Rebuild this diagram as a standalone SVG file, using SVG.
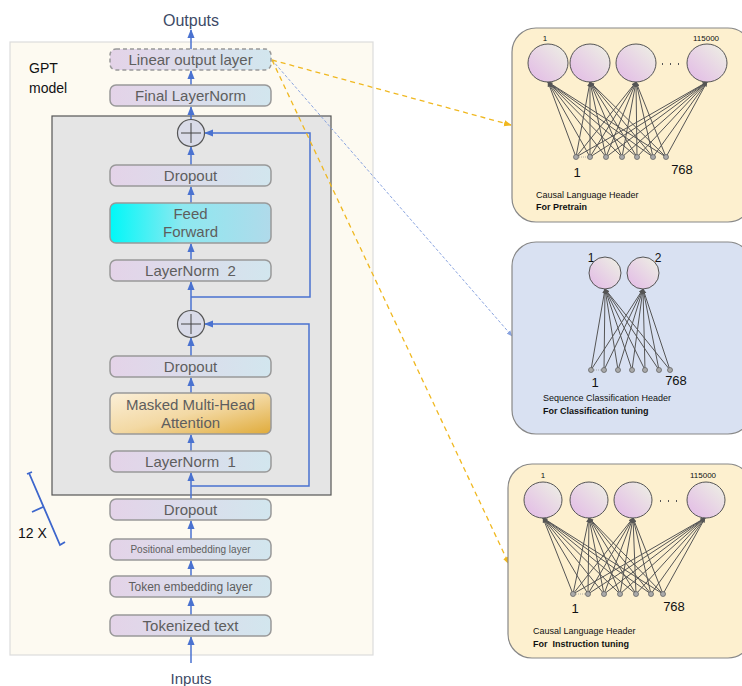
<svg xmlns="http://www.w3.org/2000/svg" width="742" height="686" viewBox="0 0 742 686">
<defs>
<linearGradient id="gLayer" x1="0" y1="0" x2="1" y2="0"><stop offset="0" stop-color="#e4d3e8"/><stop offset="1" stop-color="#d2e6ee"/></linearGradient>
<linearGradient id="gFF" x1="0" y1="0" x2="1" y2="0"><stop offset="0" stop-color="#00f8f8"/><stop offset="0.45" stop-color="#8de8f0"/><stop offset="1" stop-color="#b0daea"/></linearGradient>
<linearGradient id="gAtt" x1="0" y1="0" x2="1" y2="1"><stop offset="0" stop-color="#fbefd8"/><stop offset="0.5" stop-color="#f3d9a4"/><stop offset="1" stop-color="#e0ab3a"/></linearGradient>
<linearGradient id="gNode" x1="0" y1="1" x2="1" y2="0"><stop offset="0" stop-color="#e2b8e6"/><stop offset="1" stop-color="#eef2e4"/></linearGradient>
<marker id="ab" viewBox="0 0 10 10" refX="9" refY="5" markerWidth="6" markerHeight="6" orient="auto-start-reverse"><path d="M0,1 L10,5 L0,9 z" fill="#4a72d0"/></marker>
<marker id="ay" viewBox="0 0 10 10" refX="9" refY="5" markerWidth="6" markerHeight="6" orient="auto"><path d="M0,1 L10,5 L0,9 z" fill="#f0b820"/></marker>
<marker id="al" viewBox="0 0 10 10" refX="9" refY="5" markerWidth="6" markerHeight="6" orient="auto"><path d="M0,1 L10,5 L0,9 z" fill="#8aa4e0"/></marker>
<marker id="ag" viewBox="0 0 10 10" refX="9" refY="5" markerWidth="5" markerHeight="5" orient="auto"><path d="M0,1 L10,5 L0,9 z" fill="#555"/></marker>
</defs>
<style>
text{font-family:"Liberation Sans",Arial,sans-serif;}
.lay{fill:url(#gLayer);stroke:#999;stroke-width:1.5;}
.lt{fill:#5e5e5e;text-anchor:middle;}
.conn{stroke:#4a72d0;stroke-width:1.5;fill:none;}
.arr{marker-end:url(#ab);}
.plus{fill:#d9dbe8;stroke:#555;stroke-width:1.2;}
.nn{stroke:#555;stroke-width:1;fill:none;marker-end:url(#ag);}
.nd{fill:url(#gNode);stroke:#555;stroke-width:1;}
.inp{fill:#aaa;stroke:#666;stroke-width:0.8;}
.pt{fill:#111;}
</style>
<rect width="742" height="686" fill="#ffffff"/>

<g id="outer">
<rect x="10" y="42" width="363" height="613" fill="#fdfaf1" stroke="#dcdcdc" stroke-width="1.2"/>
<text x="29" y="73" font-size="14" fill="#111">GPT</text>
<text x="29" y="93" font-size="14" fill="#111">model</text>
</g>
<g id="block">
<rect x="52" y="116" width="279" height="379" fill="#e5e5e5" stroke="#555" stroke-width="1.2"/>
</g>

<g id="connectors">
<line class="conn arr" x1="191" y1="49" x2="191" y2="30"/>
<line class="conn arr" x1="191" y1="85" x2="191" y2="71"/>
<line class="conn arr" x1="191" y1="119" x2="191" y2="107"/>
<line class="conn arr" x1="191" y1="165" x2="191" y2="147"/>
<line class="conn arr" x1="191" y1="203" x2="191" y2="187"/>
<line class="conn arr" x1="191" y1="260" x2="191" y2="244"/>
<line class="conn arr" x1="191" y1="310" x2="191" y2="282"/>
<polyline class="conn arr" points="191,297 310,297 310,133 205,133"/>
<line class="conn arr" x1="191" y1="356" x2="191" y2="338"/>
<line class="conn arr" x1="191" y1="393" x2="191" y2="378"/>
<line class="conn arr" x1="191" y1="451" x2="191" y2="435"/>
<line class="conn arr" x1="191" y1="499" x2="191" y2="473"/>
<polyline class="conn arr" points="191,486 309,486 309,324 205,324"/>
<line class="conn arr" x1="191" y1="539" x2="191" y2="521"/>
<line class="conn arr" x1="191" y1="576" x2="191" y2="561"/>
<line class="conn arr" x1="191" y1="615" x2="191" y2="598"/>
<line class="conn arr" x1="191" y1="663" x2="191" y2="637"/>
<line x1="272" y1="60" x2="511" y2="125" stroke="#f0b820" stroke-width="1.3" stroke-dasharray="5,4" marker-end="url(#ay)"/>
<line x1="272" y1="60" x2="512" y2="336" stroke="#8aa4e0" stroke-width="1" stroke-dasharray="3,2" marker-end="url(#al)"/>
<line x1="272" y1="60" x2="509" y2="564" stroke="#f0b820" stroke-width="1.3" stroke-dasharray="5,4" marker-end="url(#ay)"/>
</g>

<g id="outputs"><text x="191" y="26" font-size="16" class="lt" style="fill:#3d4a66">Outputs</text></g>
<g id="linear"><rect x="110" y="49" width="161" height="21" rx="6" class="lay" stroke-dasharray="4,3"/><text x="190.5" y="65" font-size="15" class="lt">Linear output layer</text></g>
<g id="finalln"><rect x="110" y="85" width="161" height="21" rx="6" class="lay"/><text x="190.5" y="101" font-size="15" class="lt">Final LayerNorm</text></g>
<g id="plus1"><circle cx="191" cy="133" r="13.5" class="plus"/><path d="M181,133 H201 M191,123 V143" stroke="#444" stroke-width="1"/></g>
<g id="dropout1"><rect x="110" y="165" width="161" height="21" rx="6" class="lay"/><text x="190.5" y="181" font-size="15" class="lt">Dropout</text></g>
<g id="ff"><rect x="110" y="203" width="161" height="40" rx="6" fill="url(#gFF)" stroke="#999" stroke-width="1.5"/><text x="190.5" y="219" font-size="15" class="lt">Feed</text><text x="190.5" y="237" font-size="15" class="lt">Forward</text></g>
<g id="ln2"><rect x="110" y="260" width="161" height="21" rx="6" class="lay"/><text x="190.5" y="276" font-size="15" class="lt" xml:space="preserve">LayerNorm  2</text></g>
<g id="plus2"><circle cx="191" cy="324" r="13.5" class="plus"/><path d="M181,324 H201 M191,314 V334" stroke="#444" stroke-width="1"/></g>
<g id="dropout2"><rect x="110" y="356" width="161" height="21" rx="6" class="lay"/><text x="190.5" y="372" font-size="15" class="lt">Dropout</text></g>
<g id="mmha"><rect x="110" y="393" width="161" height="41" rx="6" fill="url(#gAtt)" stroke="#999" stroke-width="1.5"/><text x="190.5" y="410" font-size="15" class="lt">Masked Multi-Head</text><text x="190.5" y="428" font-size="15" class="lt">Attention</text></g>
<g id="ln1"><rect x="110" y="451" width="161" height="21" rx="6" class="lay"/><text x="190.5" y="467" font-size="15" class="lt" xml:space="preserve">LayerNorm  1</text></g>
<g id="dropout0"><rect x="110" y="499" width="161" height="21" rx="6" class="lay"/><text x="190.5" y="515" font-size="15" class="lt">Dropout</text></g>
<g id="posemb"><rect x="110" y="539" width="161" height="21" rx="6" class="lay"/><text x="190.5" y="553" font-size="10" class="lt">Positional embedding layer</text></g>
<g id="tokemb"><rect x="110" y="576" width="161" height="21" rx="6" class="lay"/><text x="190.5" y="591" font-size="12" class="lt">Token embedding layer</text></g>
<g id="tokenized"><rect x="110" y="615" width="161" height="21" rx="6" class="lay"/><text x="190.5" y="631" font-size="15" class="lt">Tokenized text</text></g>
<g id="inputs"><text x="191" y="684" font-size="15" class="lt" style="fill:#3d4a66">Inputs</text></g>

<g id="repeat">
<path d="M27,474 L32,472 M29,473 L60,545 L65,542 M43,507 L32,512" stroke="#3d66cc" stroke-width="1.8" fill="none"/>
<text x="18" y="538" font-size="14" fill="#111">12 X</text>
</g>

<g id="head-pretrain">
<rect x="512" y="28" width="240" height="194" rx="24" fill="#fdf0cf" stroke="#888" stroke-width="1.2"/>
<text x="545" y="41" font-size="8" class="pt" text-anchor="middle">1</text>
<text x="706" y="41" font-size="8" class="pt" text-anchor="middle">115000</text>
<g>
<line class="nn" x1="576" y1="157" x2="548" y2="82"/><line class="nn" x1="590" y1="157" x2="548" y2="82"/><line class="nn" x1="606" y1="157" x2="548" y2="82"/><line class="nn" x1="622" y1="157" x2="548" y2="82"/><line class="nn" x1="637" y1="157" x2="548" y2="82"/><line class="nn" x1="653" y1="157" x2="548" y2="82"/><line class="nn" x1="666" y1="157" x2="548" y2="82"/>
<line class="nn" x1="576" y1="157" x2="590" y2="82"/><line class="nn" x1="590" y1="157" x2="590" y2="82"/><line class="nn" x1="606" y1="157" x2="590" y2="82"/><line class="nn" x1="622" y1="157" x2="590" y2="82"/><line class="nn" x1="637" y1="157" x2="590" y2="82"/><line class="nn" x1="653" y1="157" x2="590" y2="82"/><line class="nn" x1="666" y1="157" x2="590" y2="82"/>
<line class="nn" x1="576" y1="157" x2="636" y2="82"/><line class="nn" x1="590" y1="157" x2="636" y2="82"/><line class="nn" x1="606" y1="157" x2="636" y2="82"/><line class="nn" x1="622" y1="157" x2="636" y2="82"/><line class="nn" x1="637" y1="157" x2="636" y2="82"/><line class="nn" x1="653" y1="157" x2="636" y2="82"/><line class="nn" x1="666" y1="157" x2="636" y2="82"/>
<line class="nn" x1="576" y1="157" x2="707" y2="82"/><line class="nn" x1="590" y1="157" x2="707" y2="82"/><line class="nn" x1="606" y1="157" x2="707" y2="82"/><line class="nn" x1="622" y1="157" x2="707" y2="82"/><line class="nn" x1="637" y1="157" x2="707" y2="82"/><line class="nn" x1="653" y1="157" x2="707" y2="82"/><line class="nn" x1="666" y1="157" x2="707" y2="82"/>
</g>
<ellipse cx="548" cy="63" rx="20" ry="19" class="nd"/><ellipse cx="590" cy="63" rx="20" ry="19" class="nd"/><ellipse cx="636" cy="63" rx="20" ry="19" class="nd"/><ellipse cx="707" cy="63" rx="20" ry="19" class="nd"/>
<path d="M662,64 h1 M670,64 h1 M678,64 h1" stroke="#555" stroke-width="2"/>
<path d="M579,157 H588" stroke="#999" stroke-width="0.8" stroke-dasharray="1,1"/>
<circle cx="576" cy="157" r="2.5" class="inp"/><circle cx="590" cy="157" r="2.5" class="inp"/><circle cx="606" cy="157" r="2.5" class="inp"/><circle cx="622" cy="157" r="2.5" class="inp"/><circle cx="637" cy="157" r="2.5" class="inp"/><circle cx="653" cy="157" r="2.5" class="inp"/><circle cx="666" cy="157" r="2.5" class="inp"/>
<text x="577" y="177" font-size="13" class="pt" text-anchor="middle">1</text>
<text x="682" y="174" font-size="13" class="pt" text-anchor="middle">768</text>
<text x="536" y="198" font-size="9" class="pt">Causal Language Header</text>
<text x="536" y="210" font-size="9" class="pt" font-weight="bold">For Pretrain</text>
</g>

<g id="head-classification">
<rect x="512" y="242" width="240" height="192" rx="24" fill="#d9e1f2" stroke="#888" stroke-width="1.2"/>
<text x="591" y="262" font-size="12" class="pt" text-anchor="middle">1</text>
<text x="658" y="262" font-size="12" class="pt" text-anchor="middle">2</text>
<g>
<line class="nn" x1="591" y1="370" x2="605" y2="289"/><line class="nn" x1="604" y1="370" x2="605" y2="289"/><line class="nn" x1="618" y1="370" x2="605" y2="289"/><line class="nn" x1="632" y1="370" x2="605" y2="289"/><line class="nn" x1="645" y1="370" x2="605" y2="289"/><line class="nn" x1="659" y1="370" x2="605" y2="289"/><line class="nn" x1="670" y1="370" x2="605" y2="289"/>
<line class="nn" x1="591" y1="370" x2="643" y2="289"/><line class="nn" x1="604" y1="370" x2="643" y2="289"/><line class="nn" x1="618" y1="370" x2="643" y2="289"/><line class="nn" x1="632" y1="370" x2="643" y2="289"/><line class="nn" x1="645" y1="370" x2="643" y2="289"/><line class="nn" x1="659" y1="370" x2="643" y2="289"/><line class="nn" x1="670" y1="370" x2="643" y2="289"/>
</g>
<circle cx="605" cy="273" r="16" class="nd"/><circle cx="643" cy="273" r="16" class="nd"/>
<path d="M594,370 H601" stroke="#999" stroke-width="0.8" stroke-dasharray="1,1"/>
<circle cx="591" cy="370" r="2.5" class="inp"/><circle cx="604" cy="370" r="2.5" class="inp"/><circle cx="618" cy="370" r="2.5" class="inp"/><circle cx="632" cy="370" r="2.5" class="inp"/><circle cx="645" cy="370" r="2.5" class="inp"/><circle cx="659" cy="370" r="2.5" class="inp"/><circle cx="670" cy="370" r="2.5" class="inp"/>
<text x="595" y="387" font-size="13" class="pt" text-anchor="middle">1</text>
<text x="676" y="385" font-size="13" class="pt" text-anchor="middle">768</text>
<text x="543" y="401" font-size="9" class="pt">Sequence Classification Header</text>
<text x="543" y="414" font-size="9" class="pt" font-weight="bold">For Classification tuning</text>
</g>

<g id="head-instruction">
<rect x="508" y="464" width="244" height="194" rx="24" fill="#fdf0cf" stroke="#888" stroke-width="1.2"/>
<text x="543" y="478" font-size="8" class="pt" text-anchor="middle">1</text>
<text x="703" y="478" font-size="8" class="pt" text-anchor="middle">115000</text>
<g>
<line class="nn" x1="573" y1="594" x2="543" y2="518"/><line class="nn" x1="588" y1="594" x2="543" y2="518"/><line class="nn" x1="604" y1="594" x2="543" y2="518"/><line class="nn" x1="620" y1="594" x2="543" y2="518"/><line class="nn" x1="636" y1="594" x2="543" y2="518"/><line class="nn" x1="651" y1="594" x2="543" y2="518"/><line class="nn" x1="663" y1="594" x2="543" y2="518"/>
<line class="nn" x1="573" y1="594" x2="589" y2="518"/><line class="nn" x1="588" y1="594" x2="589" y2="518"/><line class="nn" x1="604" y1="594" x2="589" y2="518"/><line class="nn" x1="620" y1="594" x2="589" y2="518"/><line class="nn" x1="636" y1="594" x2="589" y2="518"/><line class="nn" x1="651" y1="594" x2="589" y2="518"/><line class="nn" x1="663" y1="594" x2="589" y2="518"/>
<line class="nn" x1="573" y1="594" x2="633" y2="518"/><line class="nn" x1="588" y1="594" x2="633" y2="518"/><line class="nn" x1="604" y1="594" x2="633" y2="518"/><line class="nn" x1="620" y1="594" x2="633" y2="518"/><line class="nn" x1="636" y1="594" x2="633" y2="518"/><line class="nn" x1="651" y1="594" x2="633" y2="518"/><line class="nn" x1="663" y1="594" x2="633" y2="518"/>
<line class="nn" x1="573" y1="594" x2="705" y2="518"/><line class="nn" x1="588" y1="594" x2="705" y2="518"/><line class="nn" x1="604" y1="594" x2="705" y2="518"/><line class="nn" x1="620" y1="594" x2="705" y2="518"/><line class="nn" x1="636" y1="594" x2="705" y2="518"/><line class="nn" x1="651" y1="594" x2="705" y2="518"/><line class="nn" x1="663" y1="594" x2="705" y2="518"/>
</g>
<ellipse cx="543" cy="500" rx="19" ry="18" class="nd"/><ellipse cx="589" cy="500" rx="19" ry="18" class="nd"/><ellipse cx="633" cy="500" rx="19" ry="18" class="nd"/><ellipse cx="706" cy="500" rx="19" ry="18" class="nd"/>
<path d="M660,501 h1 M668,501 h1 M676,501 h1" stroke="#555" stroke-width="2"/>
<path d="M576,594 H585" stroke="#999" stroke-width="0.8" stroke-dasharray="1,1"/>
<circle cx="573" cy="594" r="2.5" class="inp"/><circle cx="588" cy="594" r="2.5" class="inp"/><circle cx="604" cy="594" r="2.5" class="inp"/><circle cx="620" cy="594" r="2.5" class="inp"/><circle cx="636" cy="594" r="2.5" class="inp"/><circle cx="651" cy="594" r="2.5" class="inp"/><circle cx="663" cy="594" r="2.5" class="inp"/>
<text x="575" y="613" font-size="13" class="pt" text-anchor="middle">1</text>
<text x="674" y="611" font-size="13" class="pt" text-anchor="middle">768</text>
<text x="533" y="634" font-size="9" class="pt">Causal Language Header</text>
<text x="533" y="647" font-size="9" class="pt" font-weight="bold" xml:space="preserve">For  Instruction tuning</text>
</g>
</svg>
